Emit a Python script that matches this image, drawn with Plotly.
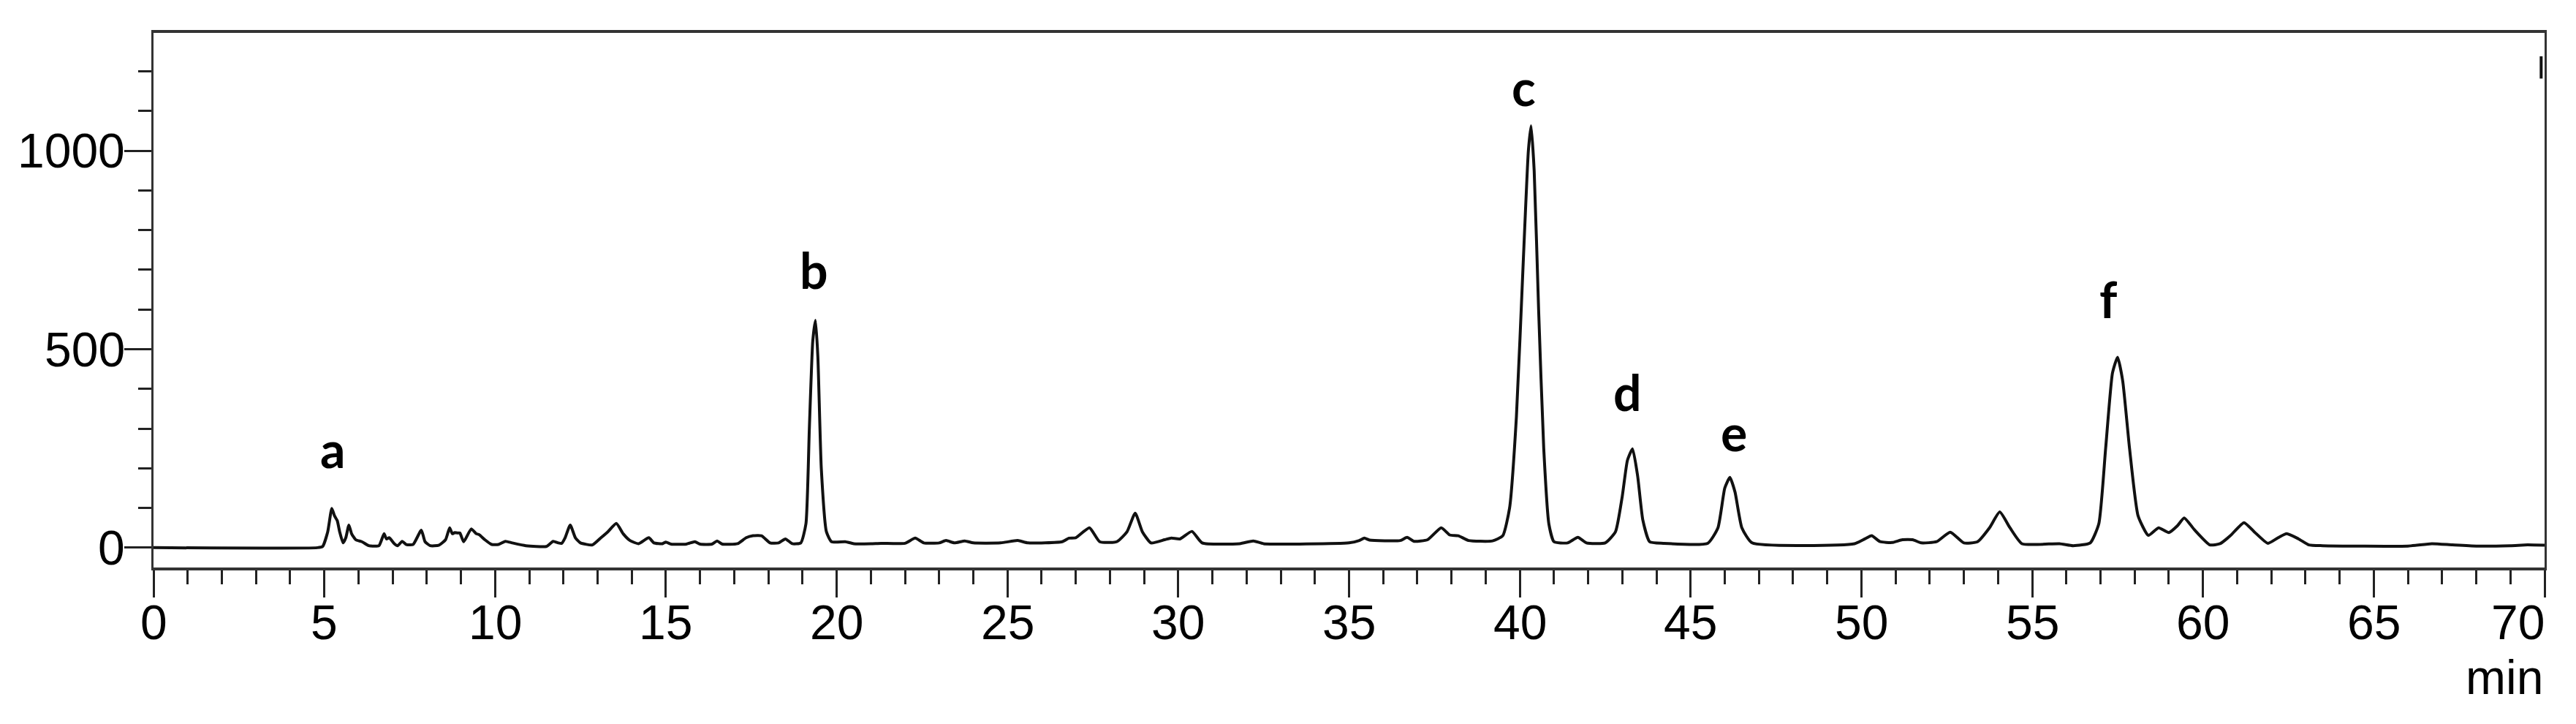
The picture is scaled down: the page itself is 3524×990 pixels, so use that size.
import plotly.graph_objects as go

# Chromatogram trace (retention time in min, detector response)
time_min = [
    0, 4.8, 4.95, 5.1, 5.22, 5.3, 5.38, 5.45, 5.55, 5.63, 5.72, 5.8, 5.92, 6.1, 6.3, 6.6,
    6.75, 6.82, 6.9, 7.05, 7.15, 7.28, 7.4, 7.6, 7.84, 7.95, 8.1, 8.35, 8.55, 8.67, 8.75,
    8.82, 8.9, 8.97, 9.08, 9.3, 9.45, 9.53, 9.7, 9.9, 10.1, 10.3, 10.5, 10.9, 11.5, 11.7,
    11.85, 11.95, 12.05, 12.2, 12.35, 12.5, 12.85, 13.1, 13.3, 13.55, 13.75, 13.95, 14.2,
    14.5, 14.65, 14.9, 15.0, 15.15, 15.6, 15.85, 16.0, 16.35, 16.5, 16.65, 17.1, 17.35,
    17.55, 17.8, 18.05, 18.3, 18.5, 18.7, 18.95, 19.1, 19.2, 19.3, 19.38, 19.45, 19.55,
    19.7, 19.85, 20.25, 20.5, 21.0, 21.3, 22.0, 22.3, 22.55, 23.0, 23.2, 23.45, 23.75,
    24.0, 24.8, 25.3, 25.6, 26.6, 26.8, 27.0, 27.4, 27.7, 28.2, 28.5, 28.74, 28.95, 29.2,
    29.6, 29.8, 30.05, 30.4, 30.7, 31.8, 32.2, 32.5, 35.0, 35.3, 35.45, 35.6, 36.5, 36.7,
    36.9, 37.3, 37.7, 37.95, 38.2, 38.5, 39.2, 39.5, 39.7, 39.9, 40.1, 40.25, 40.33, 40.42,
    40.55, 40.7, 40.85, 41.0, 41.4, 41.7, 41.95, 42.5, 42.8, 43.0, 43.15, 43.3, 43.45,
    43.6, 43.8, 44.2, 45.5, 45.8, 46.0, 46.15, 46.3, 46.5, 46.8, 49.8, 50.1, 50.3, 50.55,
    50.9, 51.2, 51.5, 51.75, 52.2, 52.6, 53.0, 53.4, 53.75, 54.05, 54.35, 54.7, 55.8,
    56.2, 56.7, 56.95, 57.15, 57.35, 57.5, 57.65, 57.85, 58.1, 58.4, 58.7, 59.0, 59.25,
    59.45, 59.75, 60.2, 60.5, 60.8, 61.2, 61.5, 61.9, 62.2, 62.45, 62.8, 63.1, 63.5,
    66.0, 66.7, 67.3, 68.0, 69.0, 69.5, 70.0,
]
response = [
    0, 0, 3, 40, 99, 80, 68, 40, 12, 25, 57, 35, 20, 15, 5, 5,
    35, 22, 25, 10, 5, 16, 8, 8, 44, 15, 5, 6, 20, 50, 35,
    38, 37, 37, 15, 47, 35, 33, 20, 8, 8, 16, 12, 5, 3, 16,
    12, 11, 25, 57, 25, 12, 7, 25, 40, 61, 35, 18, 10,
    25, 12, 10, 14, 9, 9, 15, 9, 9, 17, 9, 10, 25,
    30, 30, 12, 12, 22, 10, 12, 60, 300, 520, 573, 480, 200,
    40, 15, 15, 10, 10, 11, 11, 24, 12, 12, 18, 12, 17,
    12, 12, 18, 12, 15, 24, 25, 50, 15, 15, 40, 87, 40, 12,
    20, 24, 22, 41, 12, 10, 17, 10, 12, 18, 24, 19, 18, 26,
    16, 20, 50, 32, 30, 18, 17, 30, 100, 330, 720, 1000, 1063, 950,
    600, 250, 60, 15, 12, 26, 12, 12, 40, 130, 220, 249, 180,
    70, 15, 11, 11, 50, 150, 177, 140, 50, 12, 10, 22, 30, 15,
    13, 20, 20, 12, 15, 39, 12, 15, 50, 90, 50, 10, 10,
    5, 12, 60, 250, 440, 480, 420, 250, 80, 31, 50, 38, 55,
    75, 45, 7, 10, 30, 63, 40, 11, 25, 35, 22, 7, 5,
    4, 10, 7, 4, 5, 7, 6,
]

# Peak labels
peak_labels = ["a", "b", "c", "d", "e", "f"]
label_time = [5.25, 19.34, 40.12, 43.15, 46.27, 57.24]
label_level = [250, 700, 1162, 393, 291, 628]

# Axis ticks and their labels
x_tick_values = [0, 5, 10, 15, 20, 25, 30, 35, 40, 45, 50, 55, 60, 65, 70]
x_tick_text = ["0", "5", "10", "15", "20", "25", "30", "35", "40", "45", "50", "55", "60", "65", "70"]
y_tick_values = [0, 500, 1000]
y_tick_text = ["0", "500", "1000"]

# Small event mark at the top right of the trace window
event_mark = [69.9, 1182, 1238]

TICK_FONT = dict(family="Liberation Sans", size=66, color="#000000")

fig = go.Figure()
fig.add_trace(go.Scatter(
    x=time_min, y=response, mode="lines",
    line=dict(color="#111111", width=4, shape="spline", smoothing=0.5),
    hoverinfo="skip", showlegend=False,
))

for lab, tx, ty in zip(peak_labels, label_time, label_level):
    fig.add_annotation(
        x=tx, y=ty, xref="x", yref="y", text=f"<b>{lab}</b>", showarrow=False,
        font=dict(family="Lato", size=68, color="#000000"),
        xanchor="center", yanchor="middle",
    )

# x tick labels (the last one sits flush with the right frame, as in the instrument printout)
for i, (tv, tt) in enumerate(zip(x_tick_values, x_tick_text)):
    last = i == len(x_tick_values) - 1
    fig.add_annotation(
        x=tv, y=-0.1026, xref="x", yref="paper", text=tt, showarrow=False,
        font=TICK_FONT, xanchor="right" if last else "center", yanchor="middle",
        xshift=2 if last else 0,
    )

# y tick labels
for tv, tt in zip(y_tick_values, y_tick_text):
    fig.add_annotation(
        x=-0.0112, y=tv, xref="paper", yref="y", text=tt, showarrow=False,
        font=TICK_FONT, xanchor="right", yanchor="middle",
    )

fig.add_annotation(
    x=1, y=-0.205, xref="paper", yref="paper", text="min", showarrow=False,
    font=TICK_FONT, xanchor="right", yanchor="middle",
)

fig.add_shape(
    type="line", xref="x", yref="y",
    x0=event_mark[0], x1=event_mark[0], y0=event_mark[1], y1=event_mark[2],
    line=dict(color="#111111", width=4),
)

# page body has an 8 px default margin: figure sized so the plot frame lands where the reference has it
fig.update_layout(
    width=3516, height=982,
    margin=dict(l=202, r=43, t=37, b=214),
    paper_bgcolor="white", plot_bgcolor="white",
    font=TICK_FONT,
    xaxis=dict(
        range=[0, 70], showgrid=False, zeroline=False, automargin=False,
        showline=True, linecolor="#333333", linewidth=4, mirror=True,
        tickmode="array", tickvals=x_tick_values, showticklabels=False,
        ticks="outside", ticklen=37, tickwidth=3, tickcolor="#222222",
        minor=dict(dtick=1, ticks="outside", ticklen=19, tickwidth=3, tickcolor="#222222", showgrid=False),
    ),
    yaxis=dict(
        range=[-50, 1297], showgrid=False, zeroline=False, automargin=False,
        showline=True, linecolor="#333333", linewidth=3, mirror=True,
        tickmode="array", tickvals=y_tick_values, showticklabels=False,
        ticks="outside", ticklen=37, tickwidth=3, tickcolor="#222222",
        minor=dict(dtick=100, tick0=0, ticks="outside", ticklen=18, tickwidth=3, tickcolor="#222222", showgrid=False),
    ),
)

fig.write_html("out.html")
